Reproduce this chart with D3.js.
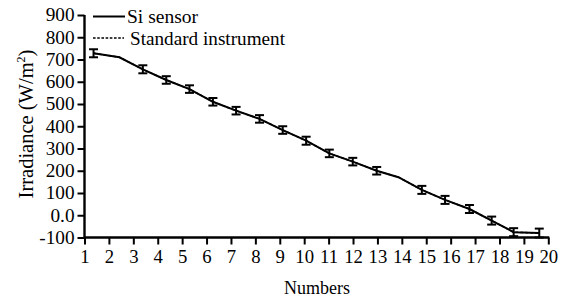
<!DOCTYPE html>
<html><head><meta charset="utf-8">
<script src="https://cdn.jsdelivr.net/npm/d3@7"></script>
<style>body{margin:0;background:#fff}svg{display:block}text{font-family:"Liberation Serif","Times New Roman",serif;fill:#000}</style>
</head><body><svg id="c" width="568" height="301"></svg>
<script>
const xTicks = d3.range(1, 21);
const yTicks = [-100, 0, 100, 200, 300, 400, 500, 600, 700, 800, 900];
const yTickLabels = ["-100", "0.0", "100", "200", "300", "400", "500", "600", "700", "800", "900"];
const numbers = [1.37, 2.43, 3.39, 4.35, 5.30, 6.26, 7.21, 8.17, 9.12, 10.08, 11.03, 11.99, 12.97, 13.86, 14.82, 15.77, 16.77, 17.68, 18.58, 19.63];
const siSensor = [728, 710, 656, 608, 567, 510, 470, 433, 383, 335, 278, 241, 200, 171, 114, 69, 28, -24, -76, -80];
const standard = [728, 710, 656, 608, 567, 510, 470, 433, 383, 335, 278, 241, 200, 171, 114, 69, 28, -24, -76, -80];
const errors = [18, null, 18, 17, 17, 17, 17, 17, 17, 18, 17, 17, 17, null, 18, 18, 18, 18, 18, 20];

const svg = d3.select("#c");
const x = d3.scaleLinear().domain([1, 20]).range([84.5, 548.3]);
const y = d3.scaleLinear().domain([-100, 900]).range([237.5, 15]);

const yAxis = d3.axisLeft(y).tickValues(yTicks).tickFormat((d, i) => yTickLabels[i]).tickSize(7).tickPadding(3);
const gy = svg.append("g").attr("transform", "translate(84.5,0)").call(yAxis);
const xAxis = d3.axisBottom(x).tickValues(xTicks).tickFormat(d3.format("d")).tickSize(7).tickPadding(6);
const gx = svg.append("g").attr("transform", "translate(0,237.5)").call(xAxis);
[gx, gy].forEach(g => {
  g.select(".domain").attr("stroke", "#000").attr("stroke-width", 2.4);
  g.selectAll(".tick line").attr("stroke", "#000").attr("stroke-width", 2);
  g.selectAll(".tick text").attr("font-size", 18).attr("font-family", "Liberation Serif");
});
gy.selectAll(".tick text").each(function () {
  const t = d3.select(this);
  t.attr("transform", `translate(${+t.attr("x")},0) scale(1.07,1) translate(${-t.attr("x")},0)`);
});
gx.selectAll(".tick text").attr("transform", "scale(1.04,1)");
gy.select(".domain").attr("d", `M-0,${y(-100) + 1}V${y(900)}`);
gx.select(".domain").attr("d", `M${x(1)},0H${x(20) + 1}`);

const line = d3.line().x((d, i) => x(numbers[i])).y(d => y(d));
svg.append("path").datum(standard).attr("d", line).attr("fill", "none").attr("stroke", "#000").attr("stroke-width", 1.5).attr("stroke-dasharray", "3,2");
svg.append("path").datum(siSensor).attr("d", line).attr("fill", "none").attr("stroke", "#000").attr("stroke-width", 2);

const eb = svg.append("g");
siSensor.forEach((v, i) => {
  if (errors[i] == null) return;
  const cx = x(numbers[i]), y1 = y(v - errors[i]), y2 = y(v + errors[i]);
  eb.append("line").attr("x1", cx).attr("x2", cx).attr("y1", y1).attr("y2", y2).attr("stroke", "#000").attr("stroke-width", 2);
  [y1, y2].forEach(yy => eb.append("line").attr("x1", cx - 4.5).attr("x2", cx + 4.5).attr("y1", yy).attr("y2", yy).attr("stroke", "#000").attr("stroke-width", 2));
});

// legend
const lg = svg.append("g");
lg.append("line").attr("x1", 93).attr("x2", 125).attr("y1", 16.5).attr("y2", 16.5).attr("stroke", "#000").attr("stroke-width", 2);
lg.append("text").attr("x", 127).attr("y", 22.5).attr("font-size", 18).attr("textLength", 71).attr("lengthAdjust", "spacingAndGlyphs").text("Si sensor");
lg.append("line").attr("x1", 93).attr("x2", 124).attr("y1", 38).attr("y2", 38).attr("stroke", "#000").attr("stroke-width", 1.6).attr("stroke-dasharray", "2.6,1.6");
lg.append("text").attr("x", 130).attr("y", 44.5).attr("font-size", 18).attr("textLength", 155).attr("lengthAdjust", "spacingAndGlyphs").text("Standard instrument");

svg.append("text").attr("transform", "translate(33,124) rotate(-90)").attr("text-anchor", "middle").attr("font-size", 20.5)
  .html('Irradiance (W/m<tspan dy="-8" font-size="12">2</tspan><tspan dy="8">)</tspan>');
svg.append("text").attr("x", 317).attr("y", 294).attr("text-anchor", "middle").attr("font-size", 18).text("Numbers");
</script></body></html>
